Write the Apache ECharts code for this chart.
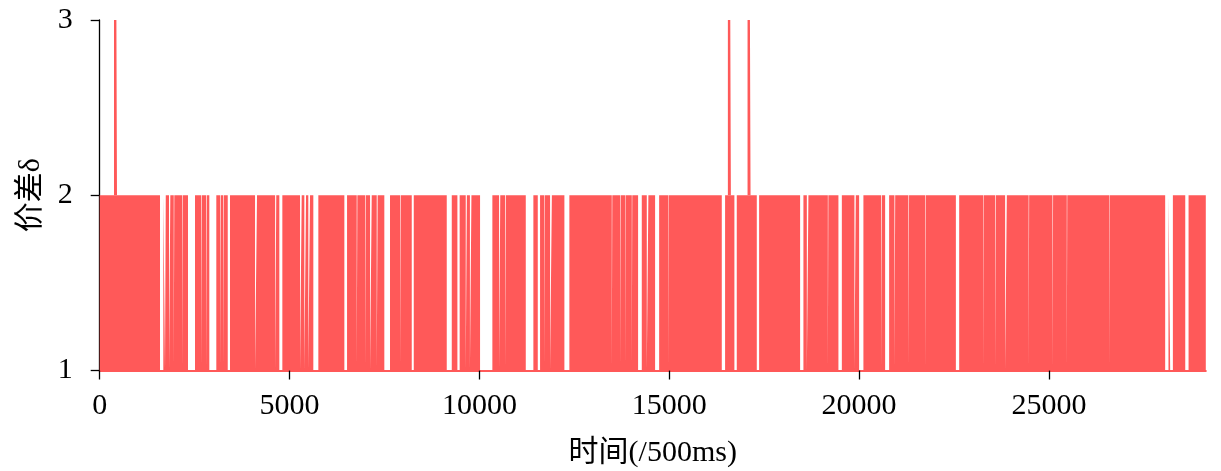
<!DOCTYPE html>
<html>
<head>
<meta charset="utf-8">
<script src="https://cdn.jsdelivr.net/npm/echarts@6/dist/echarts.min.js"></script>
<style>
html,body{margin:0;padding:0;background:#fff;}
#chart{width:1221px;height:471px;}
</style>
</head>
<body>
<div id="chart"></div>
<script>
// ---- data ----
const xTicks = [0, 5000, 10000, 15000, 20000, 25000];
const yTicks = [1, 2, 3];
const xEnd = 29130;              // last time sample
const lowValue = 1;              // price gap in the quiet stretches
const highValue = 2;             // upper level of the dense oscillation
const spikeValue = 3;
const spikeTimes = [416, 16583, 17101];
// stretches where the price gap stays at 1 (white stripes)
const quietStretches = [
  [1588,1675],[1720,1740],[1825,1860],[1950,1965],[2176,2192],[2326,2510],[2668,2685],[2800,2818],
  [2887,3071],[3169,3186],[3256,3273],[3372,3432],[4091,4143],[4620,4650],[4731,4810],[5276,5320],
  [5389,5434],[5494,5539],[5626,5758],[6443,6514],[6769,6786],[6988,7005],[7120,7164],[7296,7320],
  [7496,7646],[7910,7927],[8218,8271],[9140,9272],[9420,9480],[9640,9670],[9750,9790],[10017,10341],
  [10518,10549],[10680,10700],[11221,11421],[11537,11597],[11710,11725],[11861,11908],[12238,12369],
  [13486,13500],[13705,13720],[13837,13850],[14013,14026],[14179,14276],[14408,14450],[14627,14733],
  [14977,14990],[16383,16470],[16715,16778],[17305,17366],[18446,18533],[18623,18665],[19176,19190],
  [19455,19545],[19876,19913],[20000,20113],[20580,20600],[20685,20790],[20930,20950],[21298,21315],
  [21739,21755],[22548,22635],[23274,23288],[23582,23600],[23845,23890],[24464,24478],[25092,25108],
  [25469,25482],[26585,26598],[28060,28147],[28192,28263],[28589,28676]
];

// ---- build series from the arrays ----
const envelope = [[0, lowValue], [0, highValue]];
quietStretches.forEach(function (g) {
  envelope.push([g[0], highValue], [g[0], lowValue], [g[1], lowValue], [g[1], highValue]);
});
envelope.push([xEnd, highValue], [xEnd, lowValue]);

const RED = '#ff5959';
const FONT = "'Liberation Serif', 'Times New Roman', 'Noto Sans CJK SC', serif";

const series = [{
  type: 'line',
  data: envelope,
  showSymbol: false,
  symbol: 'none',
  lineStyle: { opacity: 0, width: 0 },
  areaStyle: { color: RED, opacity: 1, origin: 'start' },
  silent: true,
  z: 2
}];
spikeTimes.forEach(function (t) {
  series.push({
    type: 'line',
    data: [[t - 8, highValue], [t - 8, spikeValue], [t + 8, spikeValue], [t + 8, highValue]],
    showSymbol: false,
    symbol: 'none',
    lineStyle: { color: RED, width: 2.4, cap: 'butt', join: 'miter' },
    silent: true,
    z: 3
  });
});

const plain = function (v) { return String(v); };

const chart = echarts.init(document.getElementById('chart'), null, { renderer: 'canvas' });
chart.setOption({
  animation: false,
  backgroundColor: '#ffffff',
  grid: { left: 99.7, right: 15.2, top: 20, bottom: 100.5, containLabel: false, outerBoundsMode: 'none' },
  xAxis: {
    type: 'value',
    min: 0, max: xEnd, interval: 5000,
    name: '时间(/500ms)',
    nameLocation: 'middle',
    nameGap: 68,
    nameTextStyle: { color: '#000', fontFamily: FONT, fontSize: 30 },
    splitLine: { show: false },
    axisLine: { show: true, lineStyle: { color: RED, width: 2 } },
    axisTick: { show: true, inside: false, length: 9, lineStyle: { color: '#000', width: 1.3 }, customValues: xTicks },
    axisLabel: { color: '#000', fontFamily: FONT, fontSize: 30, margin: 21, formatter: plain, customValues: xTicks }
  },
  yAxis: {
    type: 'value',
    min: 1, max: 3, interval: 1,
    name: '价差δ',
    nameLocation: 'middle',
    nameGap: 54,
    nameRotate: 90,
    nameTextStyle: { color: '#000', fontFamily: FONT, fontSize: 30 },
    splitLine: { show: false },
    axisLine: { show: true, lineStyle: { color: '#000', width: 1.3 } },
    axisTick: { show: true, inside: false, length: 9, lineStyle: { color: '#000', width: 1.3 }, customValues: yTicks },
    axisLabel: { color: '#000', fontFamily: FONT, fontSize: 30, margin: 27, formatter: plain, customValues: yTicks }
  },
  series: series
});
</script>
</body>
</html>
